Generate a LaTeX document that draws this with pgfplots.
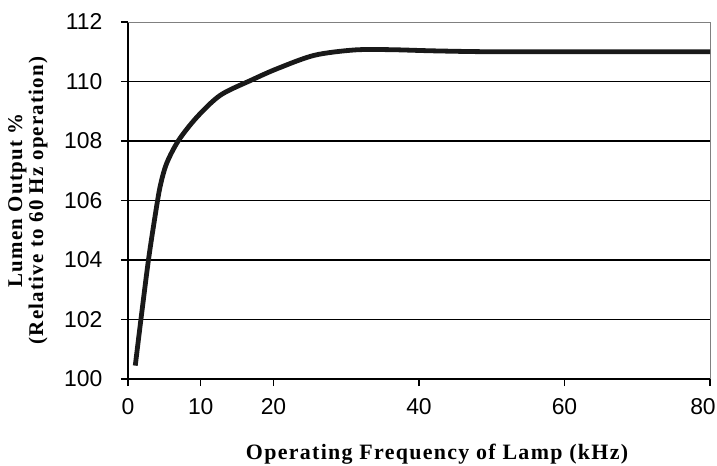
\documentclass[border=0pt]{standalone}
\usepackage{pgfplots}
\pgfplotsset{compat=1.18}
\usepackage{fontspec}
\setmainfont{Liberation Serif}
\newfontfamily\arial{Liberation Sans}
\newfontfamily\titlefont[LetterSpace=6]{Liberation Serif}

\begin{document}
\begin{tikzpicture}
\begin{axis}[
    scale only axis,
    width=582bp, height=357bp,
    at={(0,0)}, anchor=south west,
    xmin=0, xmax=80, ymin=100, ymax=112,
    xtick={0,10,20,40,60},
    extra x ticks={80},
    extra x tick style={xticklabel style={xshift=-7bp}},
    ytick={100,102,...,112},
    extra y ticks={102,104,...,110},
    extra y tick labels={},
    extra y tick style={grid=major, major tick length=0pt},
    y grid style={black, line width=1.3bp},
    axis x line*=bottom, axis y line*=left,
    axis line style={black, line width=1.3bp, -},
    tick style={black, line width=1.3bp},
    tick align=outside, major tick length=7bp,
    /pgf/number format/assume math mode=true,
    ticklabel style={font=\arial\fontsize{23}{26}\selectfont},
    yticklabel style={anchor=east, xshift=-15bp},
    xticklabel style={anchor=north, yshift=-9bp},
    xlabel={Operating Frequency of Lamp (kHz)},
    xlabel style={font=\titlefont\bfseries\fontsize{22}{26}\selectfont,
        at={(axis description cs:0.531,0)}, anchor=north, yshift=-62bp},
    ylabel={Lumen Output \%\\(Relative to 60 Hz operation)},
    ylabel style={font=\titlefont\bfseries\fontsize{21}{21}\selectfont, align=center,
        at={(axis description cs:0,0.50)}, anchor=south, yshift=77bp},
    clip=false,
]
\draw[gray, line width=0.9bp] (rel axis cs:0,1) -- (rel axis cs:1,1) -- (rel axis cs:1,0);
\addplot[black!90, line width=4.8bp, smooth, tension=0.5] coordinates {
    (1.0,100.45) (1.75,101.95) (2.8,103.98) (3.7,105.44) (4.4,106.45)
    (5.3,107.24) (6.95,108.02) (9.5,108.81) (12.7,109.54) (16.9,110.04)
    (20.5,110.43) (25.6,110.88) (31.1,111.06) (36,111.07) (42,111.03)
    (50,111.0) (65,111.0) (80,111.0)
};
\end{axis}
\pgfresetboundingbox
\useasboundingbox (-128bp,-87bp) rectangle (589bp,379bp);
\end{tikzpicture}
\end{document}
